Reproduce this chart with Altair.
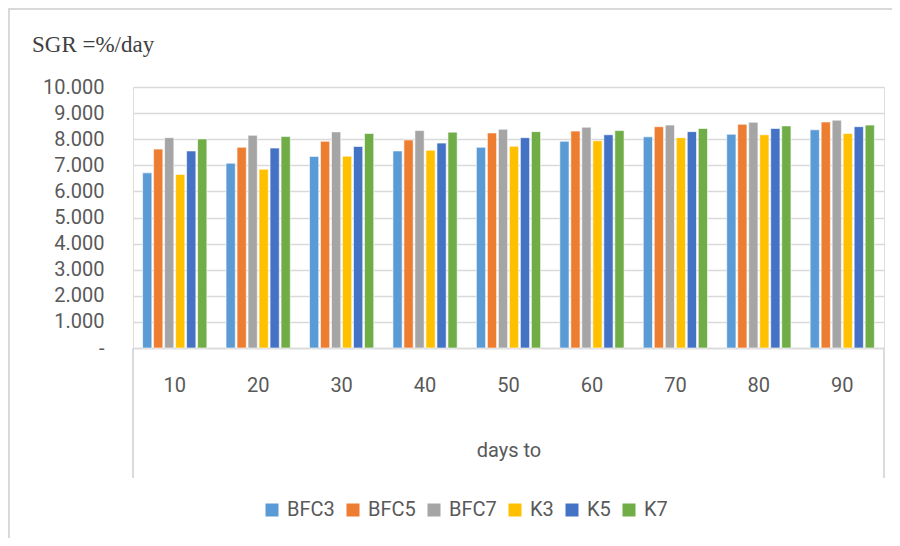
import altair as alt
import pandas as pd

TITLE = "SGR =%/day"
X_TITLE = "days to"
days = ["10", "20", "30", "40", "50", "60", "70", "80", "90"]
series = ["BFC3", "BFC5", "BFC7", "K3", "K5", "K7"]
colors = ["#5B9BD5", "#ED7D31", "#A5A5A5", "#FFC000", "#4472C4", "#70AD47"]

BFC3 = [6.71, 7.08, 7.34, 7.55, 7.69, 7.92, 8.09, 8.19, 8.36]
BFC5 = [7.62, 7.69, 7.92, 7.97, 8.24, 8.31, 8.48, 8.57, 8.66]
BFC7 = [8.06, 8.15, 8.28, 8.33, 8.38, 8.46, 8.54, 8.65, 8.73]
K3 = [6.65, 6.85, 7.35, 7.58, 7.73, 7.94, 8.06, 8.17, 8.22]
K5 = [7.55, 7.66, 7.72, 7.85, 8.06, 8.17, 8.29, 8.41, 8.48]
K7 = [8.01, 8.10, 8.22, 8.27, 8.29, 8.33, 8.41, 8.51, 8.54]
values = [BFC3, BFC5, BFC7, K3, K5, K7]

rows = []
for s, vals in zip(series, values):
    for d, v in zip(days, vals):
        rows.append({"day": d, "series": s, "value": v})
df = pd.DataFrame(rows)

FONT = "Roboto"
TXT = "#595959"
GRID = "#d9d9d9"
W, H = 751, 261

bars = alt.Chart(df).mark_bar(stroke="white", strokeWidth=0.6).encode(
    x=alt.X("day:N", sort=days,
            scale=alt.Scale(paddingInner=0.23, paddingOuter=0.115),
            axis=alt.Axis(title=X_TITLE, labelAngle=0, ticks=False,
                          domainColor=GRID, domainWidth=1.5,
                          labelFont=FONT, labelFontSize=20, labelColor=TXT,
                          labelBaseline="middle", labelPadding=37,
                          titleFont=FONT, titleFontSize=20, titleColor=TXT,
                          titleFontWeight="normal", titleBaseline="middle",
                          titleX=W / 2, titleY=102)),
    xOffset=alt.XOffset("series:N", sort=series,
                        scale=alt.Scale(paddingInner=0.16, paddingOuter=0)),
    y=alt.Y("value:Q", scale=alt.Scale(domain=[0, 10], nice=False),
            axis=alt.Axis(title=None, values=list(range(0, 11)), domain=False,
                          ticks=False, gridColor=GRID, gridWidth=1.5,
                          labelFont=FONT, labelFontSize=20, labelColor=TXT,
                          labelPadding=29,
                          labelExpr="datum.value == 0 ? '-\u00a0\u00a0\u00a0\u00a0' : format(datum.value, '.3f')")),
    color=alt.Color("series:N", sort=series,
                    scale=alt.Scale(domain=series, range=colors),
                    legend=alt.Legend(title=None, orient="none", direction="horizontal",
                                      legendX=129, legendY=413,
                                      symbolType="square", symbolSize=169,
                                      symbolStrokeWidth=0, labelFont=FONT,
                                      labelFontSize=20, labelColor=TXT,
                                      labelOffset=5, columnPadding=8)),
)

title_df = pd.DataFrame({"t": [TITLE]})
title = alt.Chart(title_df).mark_text(
    align="left", baseline="alphabetic", font="Liberation Serif",
    fontSize=23, color="#404040"
).encode(text="t:N", x=alt.value(-101), y=alt.value(-35))

box_df = pd.DataFrame({"k": [0, 1]})
box_left = alt.Chart(box_df).mark_rule(color=GRID, strokeWidth=1.5).encode(
    x=alt.value(0), y=alt.value(H), y2=alt.value(H + 130))
box_right = alt.Chart(box_df).mark_rule(color=GRID, strokeWidth=1.5).encode(
    x=alt.value(W), y=alt.value(H), y2=alt.value(H + 130))
frame_left = alt.Chart(box_df).mark_rule(color=GRID, strokeWidth=2).encode(
    x=alt.value(-124), y=alt.value(-79), y2=alt.value(H + 200))
frame_top = alt.Chart(box_df).mark_rule(color=GRID, strokeWidth=2).encode(
    x=alt.value(-124), x2=alt.value(W + 8), y=alt.value(-78))

chart = alt.layer(bars, title, box_left, box_right, frame_left, frame_top).properties(
    width=W, height=H,
    autosize=alt.AutoSizeParams(type="none"),
    padding={"left": 125, "top": 79, "right": 8, "bottom": 190},
).configure_view(stroke=None).configure(background="white")

chart.save("out.html", embed_options={"renderer": "svg", "actions": False})
